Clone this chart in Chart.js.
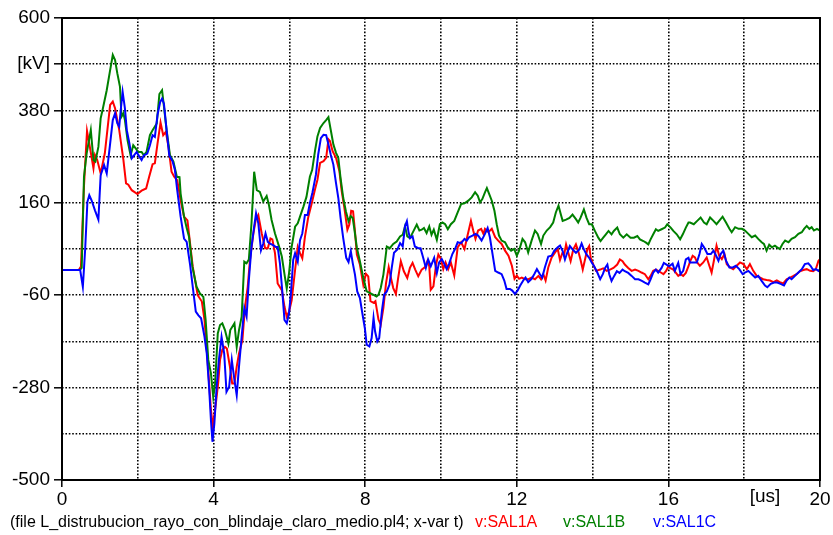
<!DOCTYPE html>
<html>
<head>
<meta charset="utf-8">
<script src="https://cdn.jsdelivr.net/npm/chart.js@4.4.0/dist/chart.umd.min.js"></script>
<style>
  html, body { margin: 0; padding: 0; background: #ffffff; }
  #wrap { width: 833px; height: 535px; }
</style>
</head>
<body>
<div id="wrap"><canvas id="plot" width="833" height="535"></canvas></div>
<script>
// Simulated lightning overvoltages at node SAL1, phases A/B/C (time in us, voltage in kV)
const seriesNames = ['v:SAL1A', 'v:SAL1B', 'v:SAL1C'];
const captionText = '(file L_distrubucion_rayo_con_blindaje_claro_medio.pl4; x-var t)';

const tA = [0,0.44,0.47,0.50,0.58,0.66,0.72,0.83,0.87,0.93,1.02,1.13,1.27,1.34,1.40,1.51,1.62,1.69,1.75,1.84,1.99,2.10,2.22,2.30,2.39,2.45,2.52,2.60,2.67,2.74,2.81,2.89,2.96,3.04,3.13,3.22,3.31,3.39,3.45,3.58,3.69,3.76,3.84,3.93,3.98,4.05,4.12,4.17,4.23,4.30,4.35,4.43,4.49,4.55,4.61,4.67,4.76,4.83,4.90,4.96,5.05,5.11,5.18,5.27,5.36,5.43,5.50,5.55,5.62,5.69,5.80,5.87,5.93,5.99,6.06,6.15,6.22,6.28,6.34,6.41,6.50,6.59,6.67,6.74,6.81,6.90,6.97,7.03,7.07,7.14,7.23,7.32,7.38,7.45,7.53,7.58,7.63,7.68,7.73,7.78,7.86,7.95,8.02,8.08,8.14,8.22,8.27,8.35,8.41,8.48,8.55,8.62,8.69,8.74,8.81,8.87,8.94,9.02,9.11,9.18,9.25,9.32,9.40,9.49,9.58,9.64,9.69,9.73,9.80,9.87,9.93,10.0,10.06,10.12,10.19,10.26,10.35,10.44,10.53,10.62,10.70,10.79,10.85,10.91,10.98,11.06,11.12,11.16,11.25,11.34,11.43,11.51,11.60,11.69,11.78,11.87,11.94,12.0,12.06,12.13,12.22,12.31,12.39,12.48,12.57,12.64,12.70,12.76,12.83,12.92,13.01,13.08,13.14,13.20,13.25,13.30,13.36,13.42,13.49,13.56,13.62,13.68,13.74,13.80,13.86,13.91,13.95,14.02,14.09,14.20,14.28,14.37,14.46,14.55,14.65,14.72,14.79,14.85,14.94,15.03,15.12,15.21,15.29,15.38,15.47,15.53,15.60,15.67,15.73,15.80,15.87,15.94,16.0,16.04,16.13,16.20,16.26,16.32,16.39,16.46,16.53,16.57,16.64,16.70,16.76,16.83,16.92,17.01,17.08,17.14,17.20,17.27,17.34,17.41,17.48,17.54,17.63,17.71,17.80,17.89,17.98,18.07,18.15,18.24,18.33,18.42,18.50,18.59,18.68,18.77,18.86,18.94,19.03,19.12,19.21,19.30,19.38,19.47,19.56,19.65,19.74,19.82,19.89,19.96,20.0];
const vA = [0,0,4,8,200,331,301,242,274,262,230,278,393,401,385,333,262,206,203,190,181,189,194,222,252,254,301,351,321,329,293,234,222,214,166,127,118,55,8,-60,-75,-119,-214,-333,-373,-325,-270,-214,-190,-183,-187,-230,-270,-270,-230,-199,-167,-87,-40,24,87,119,131,87,52,52,75,73,40,-32,-48,-87,-111,-99,-72,0,55,40,28,79,127,159,190,215,255,259,267,311,307,283,267,235,188,148,96,108,141,140,92,37,13,-35,-9,-15,-74,-78,-74,-118,-130,-90,-31,7,-23,-43,-57,-19,21,-3,-19,5,17,1,-15,1,7,21,9,-47,-39,13,37,26,2,18,2,18,-13,54,66,50,82,117,94,74,94,98,86,98,90,98,78,70,62,46,34,10,-21,-13,-21,-18,-22,-22,-18,-22,-14,-22,-10,-25,6,30,42,50,24,40,37,61,41,21,49,61,45,25,1,25,49,57,29,13,-2,1,4,-2,1,5,13,25,21,13,5,-2,1,-2,-6,-10,-22,-14,-2,1,-2,-6,-10,-2,9,5,1,-7,-14,-10,-14,-7,9,20,34,30,18,10,18,30,10,-6,22,58,34,26,38,14,6,2,10,18,14,2,14,-2,-14,-18,-22,-24,-25,-29,-25,-29,-32,-22,-18,-14,-10,-3,0,2,-2,-3,2,22,26];

const tB = [0,0.47,0.52,0.58,0.65,0.76,0.83,0.88,0.96,1.02,1.07,1.18,1.27,1.34,1.40,1.46,1.53,1.57,1.62,1.66,1.73,1.81,1.88,1.95,2.01,2.10,2.16,2.23,2.32,2.39,2.50,2.57,2.64,2.69,2.76,2.85,2.94,3.03,3.10,3.13,3.22,3.29,3.35,3.44,3.55,3.64,3.73,3.79,3.86,3.93,3.99,4.04,4.11,4.17,4.23,4.30,4.39,4.44,4.55,4.61,4.67,4.74,4.81,4.87,4.93,5.00,5.07,5.14,5.22,5.31,5.40,5.46,5.53,5.62,5.73,5.80,5.88,5.93,5.99,6.06,6.15,6.22,6.28,6.37,6.45,6.54,6.60,6.68,6.74,6.81,6.90,6.98,7.03,7.09,7.16,7.23,7.29,7.35,7.42,7.49,7.56,7.62,7.67,7.71,7.78,7.86,7.95,8.04,8.13,8.22,8.30,8.35,8.41,8.48,8.57,8.65,8.74,8.83,8.92,8.99,9.05,9.11,9.18,9.27,9.36,9.43,9.49,9.55,9.62,9.69,9.75,9.81,9.89,9.97,10.04,10.11,10.18,10.26,10.35,10.44,10.53,10.62,10.72,10.81,10.90,10.97,11.03,11.09,11.16,11.21,11.27,11.34,11.41,11.47,11.53,11.60,11.69,11.76,11.85,11.93,12.0,12.06,12.15,12.22,12.30,12.39,12.48,12.55,12.64,12.70,12.79,12.88,12.96,13.03,13.10,13.17,13.21,13.30,13.39,13.47,13.56,13.62,13.68,13.77,13.84,13.91,13.98,14.06,14.15,14.21,14.28,14.35,14.42,14.50,14.56,14.65,14.72,14.81,14.90,15.0,15.09,15.18,15.25,15.34,15.41,15.47,15.53,15.60,15.67,15.73,15.82,15.91,15.97,16.06,16.13,16.22,16.31,16.38,16.46,16.53,16.57,16.67,16.76,16.85,16.94,17.01,17.10,17.19,17.27,17.34,17.43,17.52,17.61,17.67,17.76,17.85,17.94,18.02,18.11,18.20,18.29,18.37,18.46,18.52,18.59,18.66,18.73,18.81,18.87,18.94,19.01,19.08,19.17,19.25,19.34,19.43,19.52,19.58,19.65,19.72,19.78,19.84,19.92,20.0];
const vB = [0,0,5,222,277,333,262,258,293,361,381,428,476,512,500,468,436,365,373,357,309,273,297,289,281,281,273,281,321,333,349,419,428,389,333,273,258,222,221,182,127,100,80,8,-40,-56,-64,-119,-214,-246,-302,-270,-151,-131,-127,-143,-175,-143,-127,-183,-143,-111,20,16,25,111,234,190,186,163,176,155,119,87,55,32,-16,-44,-8,55,103,111,127,151,174,222,238,286,318,338,350,358,364,334,299,279,267,219,172,140,116,128,124,100,53,21,-19,-51,-55,-59,-63,-59,-43,-11,56,52,62,68,80,84,104,80,76,92,108,94,96,100,88,104,84,96,72,109,113,109,97,109,117,137,157,159,165,173,185,177,161,169,185,195,181,165,141,109,82,70,66,54,46,50,34,46,74,66,42,70,94,86,62,82,94,102,113,137,153,130,117,120,124,132,121,113,124,144,124,109,109,93,77,69,77,85,93,85,93,101,85,77,85,77,77,81,73,69,65,61,73,85,97,93,97,101,109,101,93,85,73,85,101,113,113,109,117,125,113,109,125,117,109,117,127,113,98,90,102,98,98,94,86,78,82,74,66,62,46,60,54,58,54,50,62,70,66,74,78,86,90,98,105,98,102,94,98,94];

const tC = [0,0.48,0.55,0.61,0.67,0.72,0.78,0.87,0.96,1.02,1.11,1.18,1.27,1.34,1.40,1.46,1.51,1.55,1.60,1.66,1.71,1.78,1.84,1.90,1.97,2.04,2.10,2.16,2.25,2.32,2.39,2.45,2.52,2.59,2.64,2.69,2.76,2.83,2.92,2.98,3.04,3.13,3.22,3.29,3.38,3.45,3.53,3.60,3.67,3.76,3.82,3.88,3.93,3.97,4.02,4.08,4.14,4.21,4.28,4.34,4.41,4.48,4.55,4.61,4.67,4.74,4.81,4.87,4.93,5.00,5.07,5.12,5.18,5.25,5.31,5.37,5.43,5.49,5.57,5.64,5.69,5.75,5.81,5.87,5.93,5.99,6.04,6.10,6.15,6.22,6.28,6.34,6.41,6.48,6.54,6.61,6.70,6.76,6.83,6.90,6.97,7.03,7.09,7.16,7.23,7.29,7.35,7.42,7.50,7.56,7.62,7.67,7.73,7.79,7.86,7.93,7.99,8.04,8.11,8.17,8.22,8.26,8.32,8.37,8.44,8.50,8.57,8.64,8.70,8.76,8.85,8.92,8.99,9.05,9.10,9.14,9.18,9.25,9.31,9.40,9.46,9.53,9.60,9.66,9.73,9.82,9.89,9.95,10.02,10.09,10.15,10.21,10.30,10.37,10.44,10.53,10.62,10.68,10.74,10.83,10.91,10.98,11.07,11.16,11.23,11.29,11.36,11.43,11.51,11.60,11.67,11.73,11.82,11.88,11.95,12.02,12.09,12.17,12.23,12.30,12.39,12.46,12.53,12.61,12.67,12.74,12.83,12.92,12.99,13.08,13.14,13.21,13.27,13.33,13.40,13.47,13.56,13.65,13.71,13.77,13.84,13.91,13.98,14.04,14.11,14.20,14.27,14.33,14.39,14.44,14.50,14.57,14.64,14.71,14.79,14.85,14.94,15.03,15.12,15.21,15.30,15.38,15.47,15.53,15.60,15.67,15.73,15.82,15.88,15.95,16.02,16.11,16.17,16.26,16.32,16.39,16.46,16.53,16.57,16.66,16.75,16.82,16.88,16.94,17.03,17.12,17.19,17.26,17.32,17.38,17.45,17.52,17.61,17.70,17.78,17.87,17.96,18.02,18.11,18.20,18.29,18.37,18.46,18.55,18.61,18.70,18.79,18.87,18.96,19.05,19.12,19.19,19.25,19.34,19.43,19.52,19.60,19.69,19.75,19.82,19.89,19.96,20.0];
const vC = [0,0,-40,47,162,178,166,142,120,226,250,230,301,357,373,349,341,381,424,385,333,301,266,273,281,270,262,273,277,297,321,317,369,400,408,396,333,273,258,238,190,127,75,67,12,-40,-99,-108,-115,-159,-199,-278,-358,-409,-366,-278,-214,-159,-199,-290,-278,-214,-262,-298,-230,-159,-91,-111,-24,55,103,135,111,47,63,87,67,63,59,55,55,16,-48,-119,-127,-103,-56,24,40,20,71,87,131,131,159,185,227,275,314,322,321,299,275,251,207,172,124,76,29,19,45,17,-11,-51,-67,-106,-138,-178,-182,-162,-114,-146,-170,-162,-98,-59,-51,-35,5,41,49,64,56,104,116,92,76,80,56,52,52,29,5,25,9,29,-7,18,26,14,2,14,38,50,66,64,74,70,78,82,86,82,70,86,100,78,38,-2,-6,-10,-25,-45,-45,-49,-57,-49,-37,-25,-18,-29,-21,-10,2,-10,-18,6,32,34,46,54,58,45,25,41,57,49,41,49,63,49,37,29,17,9,-3,-22,-10,5,13,-10,-26,-14,-3,-7,1,-3,-7,-14,-22,-22,-26,-30,-34,-22,-6,1,-6,5,17,13,9,15,-2,17,-10,-2,25,29,18,18,18,38,62,54,38,38,46,34,22,38,46,22,6,6,10,2,-10,-6,-2,-10,-18,-14,-26,-37,-41,-33,-30,-30,-33,-37,-25,-18,-22,-14,-6,2,14,16,10,0,2,-2,2];

// Axis divisions and labels
const xGridValues = [0, 2, 4, 6, 8, 10, 12, 14, 16, 18, 20];
const xTickValues = [0, 4, 8, 12, 16, 20];
const xTickLabels = ['0', '4', '8', '12', '16', '20'];
const xUnitLabel = '[us]';
const yGridValues = [600, 490, 380, 270, 160, 50, -60, -170, -280, -390, -500];
const yTickValues = [600, 490, 380, 160, -60, -280, -500];
const yTickLabels = ['600', '[kV]', '380', '160', '-60', '-280', '-500'];

const seriesColors = ['#ff0000', '#008000', '#0000ff'];
const FONT = '"Liberation Sans", Arial, sans-serif';

function points(ts, vs) { return ts.map((t, i) => ({ x: t, y: vs[i] })); }

const labelFor = (vals, labels) => (v) => {
  const i = vals.findIndex(x => Math.abs(x - v) < 1e-6);
  return i >= 0 ? labels[i] : '';
};
const xLabel = labelFor(xTickValues, xTickLabels);
const yLabel = labelFor(yTickValues, yTickLabels);

// Solid frame, unit label on the time axis and the file/series caption
const framePlugin = {
  id: 'frameAndCaption',
  afterDraw(chart) {
    const { ctx, chartArea: a } = chart;
    ctx.save();
    ctx.strokeStyle = '#000';
    ctx.lineWidth = 2;
    ctx.setLineDash([]);
    ctx.strokeRect(a.left, a.top, a.right - a.left, a.bottom - a.top);

    const xs = chart.scales.x;
    ctx.fillStyle = '#000';
    ctx.font = '19px ' + FONT;
    ctx.textAlign = 'center';
    ctx.textBaseline = 'middle';
    ctx.fillText(xUnitLabel, xs.getPixelForValue(18.55), 497);

    ctx.font = '16px ' + FONT;
    ctx.textAlign = 'left';
    ctx.textBaseline = 'middle';
    ctx.fillText(captionText, 10, 523);
    const starts = [475, 563, 653];
    seriesNames.forEach((n, i) => {
      ctx.fillStyle = seriesColors[i];
      ctx.fillText(n, starts[i], 523);
    });
    ctx.restore();
  }
};

new Chart(document.getElementById('plot'), {
  type: 'line',
  data: {
    datasets: [
      { label: seriesNames[0], data: points(tA, vA), borderColor: seriesColors[0], order: 2 },
      { label: seriesNames[1], data: points(tB, vB), borderColor: seriesColors[1], order: 1 },
      { label: seriesNames[2], data: points(tC, vC), borderColor: seriesColors[2], order: 0 }
    ]
  },
  options: {
    responsive: false,
    animation: false,
    devicePixelRatio: 1,
    layout: { padding: { left: 0, top: 18, right: 13, bottom: 0 } },
    elements: {
      line: { borderWidth: 2, tension: 0, fill: false },
      point: { radius: 0, hoverRadius: 0 }
    },
    plugins: { legend: { display: false }, tooltip: { enabled: false } },
    scales: {
      x: {
        type: 'linear',
        min: 0, max: 20,
        afterBuildTicks: (s) => { s.ticks = xGridValues.map(v => ({ value: v })); },
        afterFit: (s) => { s.height = 55; },
        grid: {
          color: '#000', lineWidth: 1.6,
          tickLength: 7, tickWidth: 1.5,
          tickColor: (c) => (c.tick && xLabel(c.tick.value) !== '' ? '#000' : 'rgba(0,0,0,0)')
        },
        border: { display: false, dash: [1.6, 1.8] },
        ticks: {
          autoSkip: false, maxRotation: 0, padding: 1,
          color: '#000', font: { family: FONT, size: 19 },
          callback: (v) => xLabel(v)
        }
      },
      y: {
        type: 'linear',
        min: -500, max: 600,
        afterBuildTicks: (s) => { s.ticks = yGridValues.map(v => ({ value: v })); },
        afterFit: (s) => { s.width = 62; },
        grid: {
          color: '#000', lineWidth: 1.6,
          tickLength: 8, tickWidth: 1.5,
          tickColor: (c) => (c.tick && yLabel(c.tick.value) !== '' ? '#000' : 'rgba(0,0,0,0)')
        },
        border: { display: false, dash: [1.6, 1.8] },
        ticks: {
          autoSkip: false, padding: 4,
          color: '#000', font: { family: FONT, size: 19 },
          callback: (v) => yLabel(v)
        }
      }
    }
  },
  plugins: [framePlugin]
});
</script>
</body>
</html>
